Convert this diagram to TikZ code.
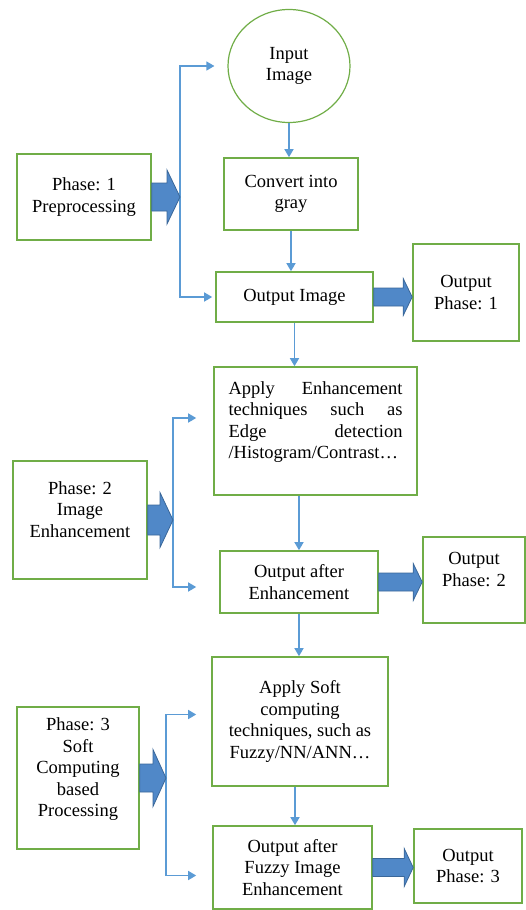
\documentclass[tikz,border=0pt]{standalone}
\usepackage{fontspec}
\setmainfont{Liberation Serif}
\usepackage{tikz}
\usetikzlibrary{arrows.meta,calc,shapes.geometric}

\definecolor{boxgreen}{HTML}{70AD47}
\definecolor{flowblue}{HTML}{5B9BD5}
\definecolor{fatblue}{HTML}{5088C8}
\definecolor{fatedge}{HTML}{3A6799}

% block arrow: from, to, half shaft, half head, head length
\newcommand{\fatarrow}[5]{%
  \filldraw[fatarr] let \p1=(#1), \p2=(#2) in
    (\x1,\y1+#3) -- (\x2-#5,\y1+#3) -- (\x2-#5,\y1+#4) -- (\x2,\y1)
    -- (\x2-#5,\y1-#4) -- (\x2-#5,\y1-#3) -- (\x1,\y1-#3) -- cycle;}

\begin{document}
\begin{tikzpicture}[x=1pt, y=-1pt,
      box/.style={draw=boxgreen, line width=1.6pt, align=center, inner sep=2pt,
        font=\fontsize{18.5}{21.5}\selectfont},
      flow/.style={draw=flowblue, line width=1.4pt, -{Triangle[length=8pt,width=9pt]}},
      fatarr/.style={fill=fatblue, draw=fatedge, line width=0.8pt}
    ]
    \useasboundingbox (0,0) rectangle (526,910);

    % ══ PHASE 1: preprocessing ═══════════════════════════════════════════════
    \node[box, ellipse, line width=1.2pt, minimum width=122pt, minimum height=113pt]
      (inp) at (289,66) {Input\\Image};
    \node[box, minimum width=134pt, minimum height=72pt] (conv) at (291,194)
      {Convert into\\gray};
    \node[box, minimum width=157pt, minimum height=50pt] (outimg) at (294.5,297)
      {Output Image};
    \node[box, minimum width=106pt, minimum height=97pt] (out1) at (466,292.5)
      {Output\\Phase: 1};
    \node[box, minimum width=134pt, minimum height=86pt] (ph1) at (84,197)
      {Phase: 1\\Preprocessing};
    \coordinate (b1) at (180,197);

    \draw[flow] (inp.south) -- (inp.south |- conv.north);
    \draw[flow] (conv.south) -- (conv.south |- outimg.north);
    \draw[flow, shorten >=13pt] (b1) |- (inp.west);
    \draw[flow, shorten >=3pt] (b1) |- (outimg.west);
    \fatarrow{ph1.east}{b1}{14pt}{27pt}{13pt}
    \fatarrow{outimg.east}{out1.west}{9pt}{18.5pt}{9pt}

    % ══ PHASE 2: enhancement ═════════════════════════════════════════════════
    \node[box, minimum width=203pt, minimum height=128pt, text width=174pt, align=left]
      (apply) at (315.5,431)
      {Apply\hfill Enhancement\\
       techniques\hfill such\hfill as\\
       Edge\hfill detection\\
       /Histogram/Contrast\ldots\\ ~};
    \node[box, minimum width=158pt, minimum height=62pt] (outaft) at (299,582)
      {Output after\\Enhancement};
    \node[box, minimum width=102pt, minimum height=86pt] (out2) at (474,580)
      {Output\\Phase: 2\\ ~};
    \node[box, minimum width=134pt, minimum height=118pt] (ph2) at (80,520)
      {Phase: 2\\Image\\Enhancement\\ ~};
    \coordinate (b2) at (173,515);

    \draw[flow] (outimg.south) -- (outimg.south |- apply.north);
    \draw[flow] (outaft.north |- apply.south) -- (outaft.north);
    \draw[flow, shorten >=17pt] (b2) |- ($(apply.west)+(0,-13)$);
    \draw[flow, shorten >=23pt] (b2) |- ($(outaft.west)+(0,5)$);
    \fatarrow{ph2.east}{b2}{15pt}{27.5pt}{13pt}
    \fatarrow{outaft.east}{out2.west}{9pt}{18.5pt}{9pt}

    % ══ PHASE 3: soft computing ══════════════════════════════════════════════
    \node[box, minimum width=176pt, minimum height=129pt] (soft) at (300,721.5)
      {Apply Soft\\computing\\techniques, such as\\Fuzzy/NN/ANN\ldots};
    \node[box, minimum width=159pt, minimum height=83pt] (fuzzy) at (292.5,867.5)
      {Output after\\Fuzzy Image\\Enhancement};
    \node[box, minimum width=108pt, minimum height=74pt] (out3) at (468,866)
      {Output\\Phase: 3};
    \node[box, minimum width=122pt, minimum height=142pt] (ph3) at (78,778)
      {Phase: 3\\Soft\\Computing\\based\\Processing\\ ~};
    \coordinate (b3) at (166,778);

    \draw[flow] (outaft.south) -- (outaft.south |- soft.north);
    \draw[flow] ($(soft.south)+(-5,0)$) -- ($(fuzzy.north)+(2.5,0)$);
    \draw[flow, shorten >=15pt] (b3) |- ($(soft.west)+(0,-7)$);
    \draw[flow, shorten >=16pt] (b3) |- ($(fuzzy.west)+(0,8)$);
    \fatarrow{ph3.east}{b3}{14pt}{28.5pt}{13pt}
    \fatarrow{fuzzy.east}{out3.west}{9pt}{19pt}{9pt}

\end{tikzpicture}
\end{document}
